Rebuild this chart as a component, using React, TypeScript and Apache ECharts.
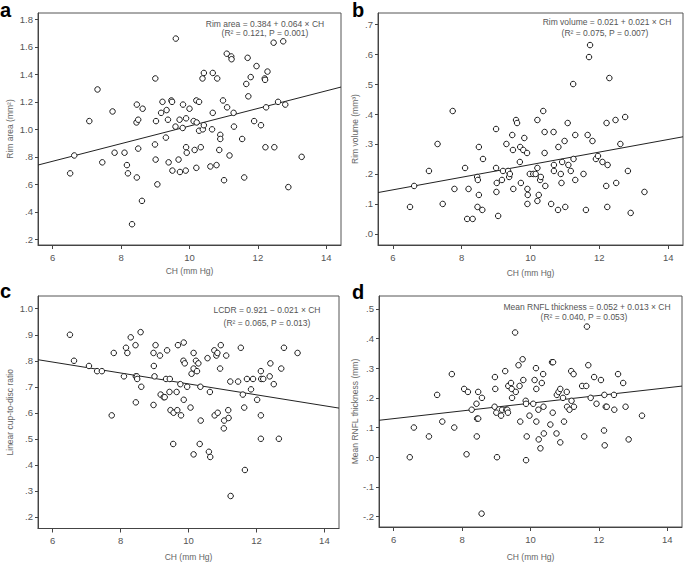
import React, { useEffect, useRef } from "react";
import * as echarts from "echarts";

// ---------- data ----------
const chA = [6.51, 6.63, 7.07, 7.31, 7.45, 7.75, 7.81, 8.1, 8.17, 8.2, 8.32, 8.46, 8.45, 8.5, 8.5, 8.46, 8.63, 8.61, 9.0, 8.99, 9.02, 9.01, 9.06, 9.21, 9.17, 9.33, 9.37, 9.31, 9.39, 9.47, 9.49, 9.5, 9.59, 9.6, 9.71, 9.68, 9.72, 9.8, 9.81, 9.9, 9.9, 9.92, 9.89, 10.0, 10.12, 10.15, 10.2, 10.21, 10.2, 10.28, 10.28, 10.33, 10.38, 10.42, 10.39, 10.42, 10.68, 10.68, 10.66, 10.61, 10.81, 10.79, 10.87, 10.9, 10.9, 10.98, 11.01, 11.09, 11.1, 11.17, 11.22, 11.23, 11.29, 11.3, 11.54, 11.6, 11.66, 11.7, 11.72, 11.79, 11.89, 11.96, 12.09, 12.2, 12.21, 12.22, 12.24, 12.28, 12.48, 12.46, 12.59, 12.74, 12.8, 12.89, 13.28];
const rimArea = [0.68, 0.81, 1.06, 1.29, 0.76, 1.13, 0.83, 0.83, 0.74, 0.68, 0.31, 1.18, 1.05, 1.07, 0.86, 0.65, 1.15, 0.48, 1.37, 0.89, 1.06, 0.78, 0.6, 1.2, 1.12, 1.14, 1.07, 0.94, 0.76, 1.21, 1.2, 0.7, 1.02, 1.66, 1.07, 0.78, 0.69, 1.01, 1.18, 1.08, 0.87, 0.83, 0.7, 1.15, 1.06, 0.85, 1.21, 1.05, 0.72, 1.2, 0.99, 0.87, 1.37, 1.41, 1.0, 1.03, 1.41, 1.12, 1.0, 0.73, 1.37, 0.74, 0.85, 0.96, 0.93, 1.21, 0.63, 1.55, 1.16, 0.81, 1.53, 1.51, 1.12, 1.02, 0.93, 0.65, 1.33, 1.52, 1.24, 1.38, 1.06, 1.46, 1.03, 1.37, 1.36, 0.87, 1.16, 1.42, 0.87, 1.63, 1.2, 1.64, 1.18, 0.58, 0.8];

const chB = [6.5, 6.62, 7.05, 7.3, 7.45, 7.74, 7.79, 8.1, 8.16, 8.32, 8.2, 8.45, 8.47, 8.5, 8.46, 8.5, 8.6, 8.62, 9.0, 9.0, 9.02, 9.01, 9.06, 9.17, 9.2, 9.3, 9.35, 9.38, 9.4, 9.47, 9.49, 9.5, 9.58, 9.61, 9.69, 9.7, 9.72, 9.79, 9.82, 9.9, 9.91, 9.92, 9.91, 9.98, 10.08, 10.15, 10.2, 10.2, 10.2, 10.24, 10.28, 10.3, 10.37, 10.41, 10.41, 10.43, 10.6, 10.67, 10.68, 10.68, 10.81, 10.8, 10.88, 10.9, 10.92, 10.99, 11.01, 11.08, 11.1, 11.17, 11.24, 11.25, 11.3, 11.3, 11.54, 11.61, 11.66, 11.7, 11.73, 11.8, 11.9, 11.96, 12.09, 12.21, 12.2, 12.23, 12.24, 12.29, 12.47, 12.49, 12.61, 12.75, 12.83, 12.91, 13.31];
const rimVolume = [0.09, 0.16, 0.21, 0.3, 0.1, 0.41, 0.15, 0.22, 0.05, 0.05, 0.15, 0.19, 0.18, 0.29, 0.09, 0.13, 0.08, 0.25, 0.35, 0.22, 0.17, 0.14, 0.06, 0.18, 0.21, 0.3, 0.21, 0.19, 0.2, 0.33, 0.28, 0.15, 0.38, 0.37, 0.24, 0.29, 0.17, 0.28, 0.32, 0.27, 0.15, 0.13, 0.1, 0.2, 0.2, 0.2, 0.22, 0.38, 0.11, 0.13, 0.18, 0.19, 0.41, 0.34, 0.27, 0.16, 0.1, 0.34, 0.23, 0.21, 0.29, 0.08, 0.2, 0.17, 0.24, 0.31, 0.09, 0.37, 0.23, 0.21, 0.5, 0.25, 0.33, 0.18, 0.2, 0.08, 0.33, 0.59, 0.63, 0.31, 0.25, 0.26, 0.24, 0.37, 0.16, 0.09, 0.23, 0.52, 0.38, 0.17, 0.3, 0.39, 0.21, 0.07, 0.14];

const chC = [6.51, 6.63, 7.07, 7.31, 7.45, 7.74, 7.8, 8.1, 8.16, 8.2, 8.3, 8.44, 8.45, 8.48, 8.49, 8.45, 8.59, 8.61, 8.97, 8.98, 9.0, 8.97, 9.03, 9.16, 9.18, 9.27, 9.3, 9.37, 9.34, 9.45, 9.44, 9.47, 9.56, 9.55, 9.65, 9.67, 9.69, 9.76, 9.78, 9.86, 9.85, 9.89, 9.86, 9.96, 10.06, 10.15, 10.15, 10.09, 10.15, 10.22, 10.25, 10.29, 10.33, 10.36, 10.35, 10.56, 10.6, 10.64, 10.63, 10.76, 10.77, 10.82, 10.85, 10.86, 10.95, 10.93, 11.04, 11.05, 11.11, 11.17, 11.18, 11.23, 11.24, 11.46, 11.54, 11.6, 11.64, 11.66, 11.72, 11.84, 11.9, 12.02, 12.13, 12.13, 12.14, 12.2, 12.13, 12.39, 12.41, 12.51, 12.66, 12.73, 12.81, 13.21];
const lcdr = [0.9, 0.8, 0.78, 0.76, 0.76, 0.59, 0.83, 0.74, 0.85, 0.83, 0.89, 0.86, 0.74, 0.74, 0.73, 0.64, 0.91, 0.7, 0.83, 0.78, 0.74, 0.63, 0.86, 0.82, 0.67, 0.66, 0.66, 0.84, 0.73, 0.73, 0.68, 0.61, 0.6, 0.48, 0.68, 0.61, 0.86, 0.71, 0.59, 0.87, 0.8, 0.79, 0.65, 0.7, 0.62, 0.83, 0.77, 0.75, 0.44, 0.8, 0.76, 0.79, 0.48, 0.57, 0.7, 0.81, 0.45, 0.43, 0.68, 0.84, 0.59, 0.82, 0.83, 0.6, 0.86, 0.77, 0.54, 0.57, 0.82, 0.61, 0.58, 0.72, 0.28, 0.72, 0.85, 0.67, 0.62, 0.38, 0.73, 0.69, 0.73, 0.65, 0.59, 0.76, 0.73, 0.73, 0.5, 0.74, 0.79, 0.71, 0.5, 0.77, 0.85, 0.83];

const chD = [6.47, 6.59, 7.03, 7.27, 7.42, 7.7, 7.77, 8.06, 8.13, 8.17, 8.28, 8.42, 8.44, 8.47, 8.47, 8.43, 8.58, 8.57, 8.96, 8.97, 8.95, 9.0, 9.02, 9.14, 9.17, 9.26, 9.29, 9.32, 9.35, 9.43, 9.45, 9.46, 9.34, 9.55, 9.57, 9.65, 9.68, 9.7, 9.77, 9.79, 9.86, 9.87, 9.89, 9.87, 9.97, 10.08, 10.12, 10.16, 10.17, 10.17, 10.23, 10.24, 10.29, 10.33, 10.37, 10.38, 10.39, 10.58, 10.63, 10.66, 10.65, 10.76, 10.77, 10.82, 10.87, 10.87, 10.95, 10.98, 11.06, 11.07, 11.14, 11.19, 11.2, 11.26, 11.27, 11.51, 11.63, 11.57, 11.65, 11.69, 11.76, 11.86, 11.93, 12.06, 12.16, 12.15, 12.17, 12.2, 12.23, 12.44, 12.45, 12.56, 12.71, 12.78, 12.87, 13.26];
const rnfl = [0.0, 0.1, 0.07, 0.21, 0.12, 0.28, 0.1, 0.23, 0.01, 0.22, 0.16, 0.18, 0.13, 0.13, 0.22, 0.07, 0.2, -0.19, 0.27, 0.23, 0.17, 0.15, 0.0, 0.14, 0.16, 0.29, 0.16, 0.16, 0.24, 0.25, 0.23, 0.2, 0.15, 0.42, 0.22, 0.31, 0.24, 0.12, 0.33, 0.26, 0.19, 0.18, 0.07, -0.01, 0.14, 0.18, 0.26, 0.3, 0.23, 0.12, 0.16, 0.06, 0.03, 0.25, 0.28, 0.17, 0.08, 0.11, 0.32, 0.32, 0.15, 0.08, 0.21, 0.22, 0.23, 0.05, 0.2, 0.12, 0.22, 0.17, 0.16, 0.29, 0.19, 0.28, 0.17, 0.24, 0.24, 0.07, 0.44, 0.31, 0.2, 0.27, 0.18, 0.26, 0.21, 0.09, 0.04, 0.17, 0.17, 0.21, 0.16, 0.28, 0.25, 0.17, 0.06, 0.14];

const xTicks = [6, 8, 10, 12, 14];
const yTicksA = [0.2, 0.4, 0.6, 0.8, 1.0, 1.2, 1.4, 1.6, 1.8];
const yTicksB = [0, 0.1, 0.2, 0.3, 0.4, 0.5, 0.6, 0.7];
const yTicksC = [0.2, 0.3, 0.4, 0.5, 0.6, 0.7, 0.8, 0.9, 1.0];
const yTicksD = [-0.2, -0.1, 0, 0.1, 0.2, 0.3, 0.4, 0.5];

const panelLetters = ["a", "b", "c", "d"];
const xTitle = "CH (mm Hg)";
const yTitles = ["Rim area (mm²)", "Rim volume (mm³)", "Linear cup-to-disc ratio", "Mean RNFL thickness (mm)"];
const equations = [
  "Rim area = 0.384 + 0.064 × CH",
  "Rim volume = 0.021 + 0.021 × CH",
  "LCDR = 0.921 − 0.021 × CH",
  "Mean RNFL thickness = 0.052 + 0.013 × CH",
];
const statsText = [
  "(R² = 0.121, P = 0.001)",
  "(R² = 0.075, P = 0.007)",
  "(R² = 0.065, P = 0.013)",
  "(R² = 0.040, P = 0.053)",
];
const intercepts = [0.384, 0.021, 0.921, 0.052];
const slopes = [0.064, 0.021, -0.021, 0.013];

// ---------- layout ----------
const FONT = '"Liberation Sans", Arial, sans-serif';
const X_MIN = 5.57;
const X_MAX = 14.43;
const panels = [
  { x: chA, y: rimArea, ticks: yTicksA, min: 0.159, max: 1.846, grid: { left: 38, top: 13, width: 303, height: 232 }, yGap: 23.5, xGap: 21.5, letter: [0, 0], eq: [265, 24], st: [265, 33.3] },
  { x: chB, y: rimVolume, ticks: yTicksB, min: -0.037, max: 0.737, grid: { left: 378, top: 13, width: 305, height: 232 }, yGap: 18.5, xGap: 23, letter: [352, 0], eq: [607, 22], st: [605, 33.3] },
  { x: chC, y: lcdr, ticks: yTicksC, min: 0.155, max: 1.049, grid: { left: 38, top: 296, width: 301, height: 233 }, yGap: 24, xGap: 23.5, letter: [0, 281.4], eq: [267, 310], st: [267, 323] },
  { x: chD, y: rnfl, ticks: yTicksD, min: -0.235, max: 0.543, grid: { left: 379, top: 296, width: 303, height: 231 }, yGap: 19.5, xGap: 25, letter: [352, 282.4], eq: [587, 306.7], st: [584, 317.3] },
];

const fmtY = (v: number) => v.toFixed(1).replace(/^(-?)0\./, "$1.");

export default function App() {
  const ref = useRef<HTMLDivElement>(null);

  useEffect(() => {
    if (!ref.current) return;
    const chart = echarts.init(ref.current, undefined, { renderer: "svg" });

    const grids = panels.map((p) => ({
      ...p.grid,
      show: true,
      borderColor: "#555",
      borderWidth: 1,
      backgroundColor: "transparent",
      containLabel: false,
    }));

    const xAxes = panels.map((p, i) => ({
      gridIndex: i,
      type: "value",
      min: X_MIN,
      max: X_MAX,
      axisLine: { show: true, onZero: false, lineStyle: { color: "#444", width: 1 } },
      axisTick: { show: true, length: 4, customValues: xTicks, lineStyle: { color: "#444" } },
      axisLabel: { customValues: xTicks, fontSize: 9.5, color: "#555", margin: 7, fontFamily: FONT },
      splitLine: { show: false },
      name: xTitle,
      nameLocation: "middle",
      nameGap: p.xGap,
      nameTextStyle: { fontSize: 8.5, color: "#666", fontFamily: FONT },
    }));

    const yAxes = panels.map((p, i) => ({
      gridIndex: i,
      type: "value",
      min: p.min,
      max: p.max,
      axisLine: { show: true, onZero: false, lineStyle: { color: "#444", width: 1 } },
      axisTick: { show: true, length: 3, customValues: p.ticks, lineStyle: { color: "#444" } },
      axisLabel: { customValues: p.ticks, formatter: fmtY, fontSize: 9.5, color: "#555", margin: 5, fontFamily: FONT },
      splitLine: { show: false },
      name: yTitles[i],
      nameLocation: "middle",
      nameGap: p.yGap,
      nameTextStyle: { fontSize: 8.5, color: "#666", fontFamily: FONT },
    }));

    const series: any[] = [];
    panels.forEach((p, i) => {
      series.push({
        type: "line",
        xAxisIndex: i,
        yAxisIndex: i,
        data: [X_MIN, X_MAX].map((x) => [x, intercepts[i] + slopes[i] * x]),
        showSymbol: false,
        lineStyle: { color: "#222", width: 1 },
        z: 2,
        silent: true,
      });
      series.push({
        type: "scatter",
        xAxisIndex: i,
        yAxisIndex: i,
        data: p.x.map((x, k) => [x, p.y[k]]),
        symbol: "circle",
        symbolSize: 5.5,
        itemStyle: { color: "#fff", borderColor: "#1a1a1a", borderWidth: 1, opacity: 1 },
        z: 3,
      });
    });

    const graphic: any[] = [];
    panels.forEach((p, i) => {
      graphic.push({
        type: "text",
        x: p.letter[0],
        y: p.letter[1],
        style: { text: panelLetters[i], font: `bold 20px ${FONT}`, lineHeight: 20, fill: "#000", textAlign: "left", textVerticalAlign: "top" },
      });
      graphic.push({
        type: "text",
        x: p.eq[0],
        y: p.eq[1],
        style: { text: equations[i], font: `8.5px ${FONT}`, fill: "#555", textAlign: "center", textVerticalAlign: "middle" },
        z: 10,
      });
      graphic.push({
        type: "text",
        x: p.st[0],
        y: p.st[1],
        style: { text: statsText[i], font: `8.5px ${FONT}`, fill: "#555", textAlign: "center", textVerticalAlign: "middle" },
        z: 10,
      });
    });

    chart.setOption({
      animation: false,
      backgroundColor: "#fff",
      grid: grids,
      xAxis: xAxes,
      yAxis: yAxes,
      series,
      graphic,
    });

    return () => chart.dispose();
  }, []);

  return <div ref={ref} style={{ position: "absolute", left: 0, top: 0, width: 685, height: 562 }} />;
}
